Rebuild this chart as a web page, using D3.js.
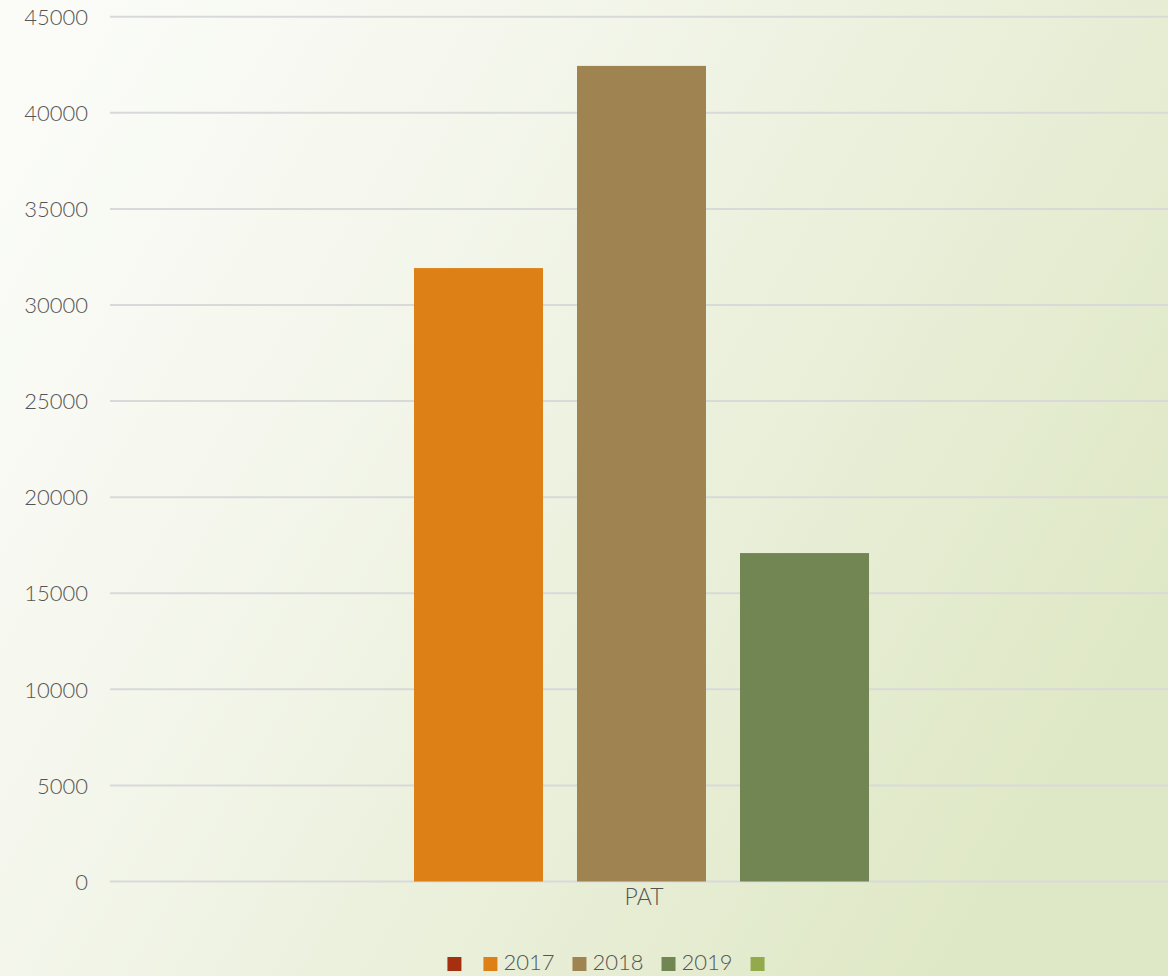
<!DOCTYPE html>
<html><head><meta charset="utf-8">
<script src="https://cdn.jsdelivr.net/npm/d3@7"></script>
<style>html,body{margin:0;padding:0;overflow:hidden;}svg{display:block;}</style>
</head><body>
<svg id="chart" width="1168" height="976"></svg>
<script>
const categories = ["PAT"];
const seriesNames = ["", "2017", "2018", "2019", ""];
const seriesColors = ["#A5300F", "#DD8016", "#9F8351", "#728653", "#92AA4C"];
const seriesValues = [0, 31920, 42440, 17090, 0];
const yTicks = [0, 5000, 10000, 15000, 20000, 25000, 30000, 35000, 40000, 45000];

const W = 1168, H = 976;
const svg = d3.select("#chart");
const font = "Lato, 'Open Sans', sans-serif";
const textColor = "#555555";

const defs = svg.append("defs");
const g = defs.append("linearGradient").attr("id","bg")
  .attr("x1","0").attr("y1","0.1").attr("x2","1").attr("y2","0.6");
g.append("stop").attr("offset","0").attr("stop-color","#fbfcf8");
g.append("stop").attr("offset","0.3").attr("stop-color","#f5f7ee");
g.append("stop").attr("offset","1").attr("stop-color","#dfe8c6");
svg.append("rect").attr("width",W).attr("height",H).attr("fill","url(#bg)");

const plotL = 110, plotR = 1168, plotT = 16.7, plotB = 881.5;
const y = d3.scaleLinear().domain([0,45000]).range([plotB, plotT]);
const x0 = d3.scaleBand().domain(categories).range([plotL, 1173]).paddingInner(0).paddingOuter(0.1805);
const x1 = d3.scaleBand().domain(d3.range(seriesNames.length)).range([0, x0.bandwidth()]).paddingInner(0.2086).paddingOuter(0);

// gridlines
svg.append("g").selectAll("line").data(yTicks).join("line")
  .attr("x1", plotL).attr("x2", plotR)
  .attr("y1", d => y(d)).attr("y2", d => y(d))
  .attr("stroke", "#d9d9d9").attr("stroke-width", 2);

// y axis labels
const yAxis = d3.axisLeft(y).tickValues(yTicks).tickSize(0).tickPadding(0).tickFormat(d3.format("d"));
const ya = svg.append("g").attr("transform", `translate(88,0)`).call(yAxis);
ya.select(".domain").remove();
ya.selectAll("text").attr("font-family", font).attr("font-weight", 300).attr("font-size", 22).attr("fill", textColor).attr("dy","0.35em");

// bars
const grp = svg.append("g").selectAll("g").data(categories).join("g")
  .attr("transform", d => `translate(${x0(d)},0)`);
grp.selectAll("rect").data(seriesValues.map((v,i)=>({v,i}))).join("rect")
  .attr("x", d => x1(d.i)).attr("width", x1.bandwidth())
  .attr("y", d => y(d.v)).attr("height", d => y(0) - y(d.v))
  .attr("fill", d => seriesColors[d.i]);

// x axis labels
const xAxis = d3.axisBottom(x0).tickSize(0).tickPadding(0);
const xa = svg.append("g").attr("transform", `translate(2.5,${plotB})`).call(xAxis);
xa.select(".domain").remove();
xa.selectAll("text").attr("font-family", font).attr("font-weight", 300).attr("font-size", 23).attr("fill", textColor).attr("dy", "1.02em");

// legend
const leg = svg.append("g");
let cx = 0;
seriesNames.forEach((n,i) => {
  const it = leg.append("g");
  it.append("rect").attr("x", cx).attr("y", 957).attr("width", 14).attr("height", 14).attr("fill", seriesColors[i]);
  const t = it.append("text").attr("x", cx + 20).attr("y", 970).text(n)
    .attr("font-family", font).attr("font-weight", 300).attr("font-size", 22).attr("fill", textColor);
  const tw = n ? t.node().getComputedTextLength() : 0;
  cx += n ? (20 + tw + 18) : 36;
});
const total = cx - 22;
leg.attr("transform", `translate(${606 - total/2},0)`);
</script>
</body></html>
